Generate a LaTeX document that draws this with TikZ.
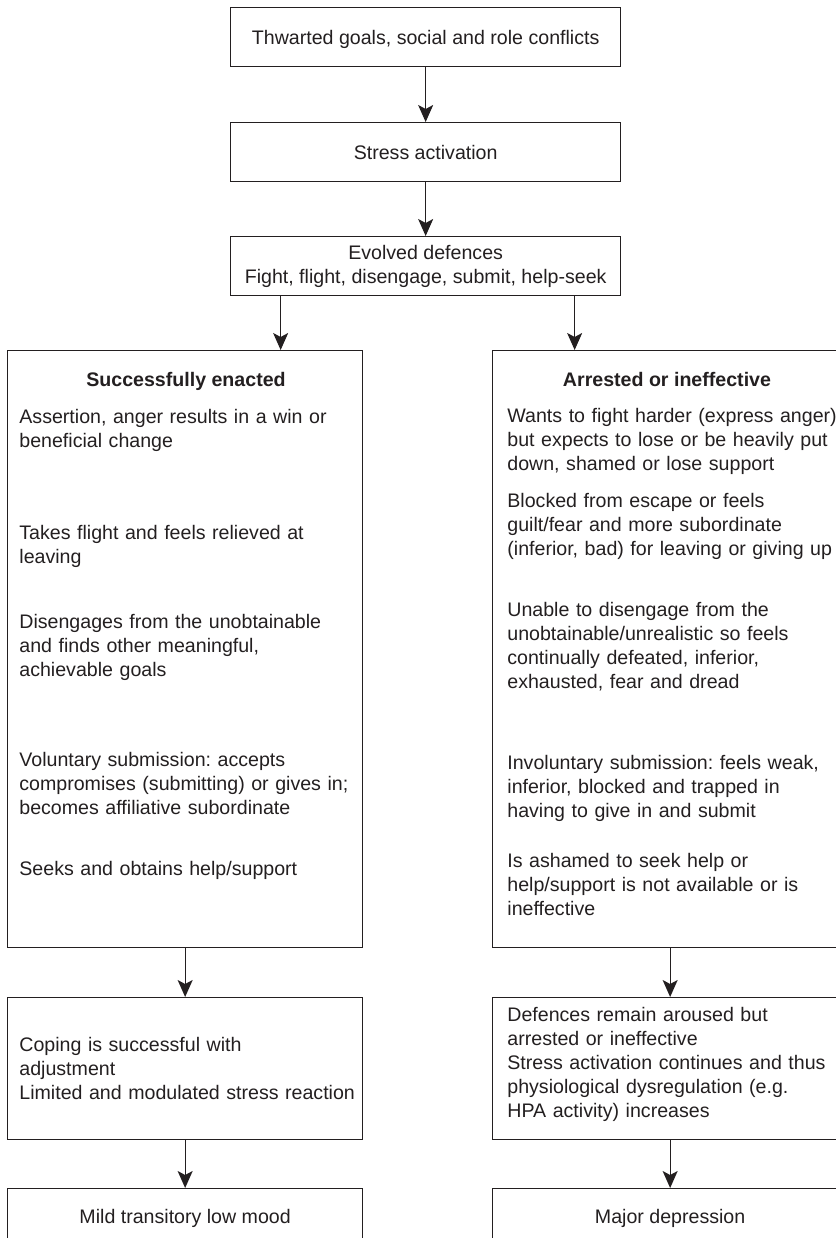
\documentclass[tikz,border=0pt]{standalone}
\usepackage{fontspec}
\setmainfont{Liberation Sans}
\usetikzlibrary{arrows.meta}
\definecolor{ink}{RGB}{35,31,32}
\frenchspacing
\begin{document}
\begin{tikzpicture}[x=0.5pt,y=-0.5pt,
  font=\fontsize{9.8pt}{12pt}\selectfont,
  every node/.style={text=ink},
  frame/.style={draw=ink, line width=0.65pt, inner sep=0pt, anchor=north west},
  headbox/.style={frame, minimum width=195pt, minimum height=29.5pt, align=center},
  bigbox/.style={frame, minimum width=177.5pt, minimum height=298.5pt},
  midbox/.style={frame, minimum width=177.5pt, minimum height=71pt},
  endbox/.style={frame, minimum width=177.5pt, minimum height=29.5pt},
  title/.style={anchor=base, inner sep=0pt, font=\fontsize{9.8pt}{12pt}\selectfont\bfseries},
  para/.style={anchor=base west, inner sep=0pt, text width=175pt, align=left},
  arr/.style={draw=ink, line width=0.65pt, -{Stealth[length=8.5pt,width=7.5pt,inset=2pt]}}
]
\useasboundingbox (0,0) rectangle (836,1238);
\clip (0,0) rectangle (836,1238);

% top chain
\node[headbox, text depth=0pt] (goals) at (230,7) {Thwarted goals, social and role conflicts};
\node[headbox, text depth=0pt] (stress) at (230,122) {Stress activation};
\node[headbox] (defences) at (230,236) {Evolved defences\\Fight, flight, disengage, submit, help-seek};

% the two outcome columns
\node[bigbox] (enacted) at (7,350) {};
\node[bigbox] (arrested) at (492,350) {};
\node[midbox] (coping) at (7,997) {};
\node[midbox] (aroused) at (492,997) {};
\node[endbox] (mild) at (7,1188) {Mild transitory low mood};
\node[endbox] (major) at (492,1188) {Major depression};

% left column text
\node[title] (entitle) at (186,386) {Successfully enacted};
\node[para] (en1) at (19,423) {Assertion, anger results in a win or\\beneficial change};
\node[para] (en2) at (19,539) {Takes flight and feels relieved at\\leaving};
\node[para] (en3) at (19,628) {Disengages from the unobtainable\\and finds other meaningful,\\achievable goals};
\node[para] (en4) at (19,766) {Voluntary submission: accepts\\compromises (submitting) or gives in;\\becomes affiliative subordinate};
\node[para] (en5) at (19,875) {Seeks and obtains help/support};
\node[para] (cop) at (19,1051) {Coping is successful with\\adjustment\\Limited and modulated stress reaction};

% right column text
\node[title] (artitle) at (667,386) {Arrested or ineffective};
\node[para] (ar1) at (507,422) {Wants to fight harder (express anger)\\but expects to lose or be heavily put\\down, shamed or lose support};
\node[para] (ar2) at (507,507) {Blocked from escape or feels\\guilt/fear and more subordinate\\(inferior, bad) for leaving or giving up};
\node[para] (ar3) at (507,616) {Unable to disengage from the\\unobtainable/unrealistic so feels\\continually defeated, inferior,\\exhausted, fear and dread};
\node[para] (ar4) at (507,769) {Involuntary submission: feels weak,\\inferior, blocked and trapped in\\having to give in and submit};
\node[para] (ar5) at (507,867) {Is ashamed to seek help or\\help/support is not available or is\\ineffective};
\node[para] (aro) at (507,1021) {Defences remain aroused but\\arrested or ineffective\\Stress activation continues and thus\\physiological dysregulation (e.g.\\HPA activity) increases};

% connectors
\draw[arr] (goals) -- (stress);
\draw[arr] (stress) -- (defences);
\draw[arr] ([xshift=-72.5pt]defences.south) -- ([xshift=-72.5pt]defences.south |- enacted.north);
\draw[arr] ([xshift=74.5pt]defences.south) -- ([xshift=74.5pt]defences.south |- arrested.north);
\draw[arr] (enacted) -- (coping);
\draw[arr] (arrested) -- (aroused);
\draw[arr] (coping) -- (mild);
\draw[arr] (aroused) -- (major);
\end{tikzpicture}
\end{document}
